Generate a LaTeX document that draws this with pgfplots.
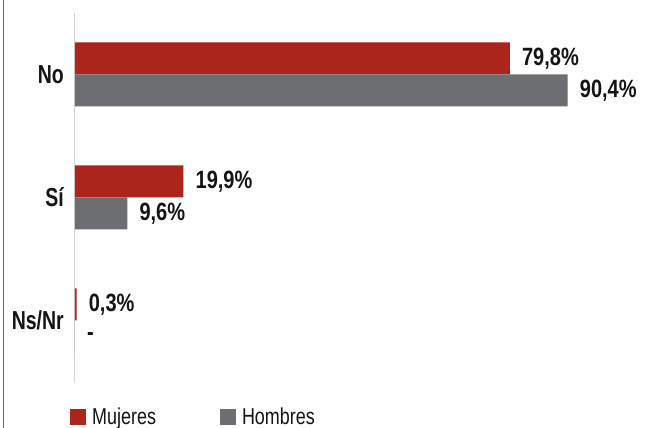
\documentclass[border=0pt]{standalone}
\usepackage{fontspec}
\setmainfont{Liberation Sans}[FakeStretch=0.8]
\newfontfamily\tickfont{Liberation Sans}[FakeStretch=0.75]
\newfontfamily\valfont{Liberation Sans}[FakeStretch=0.8]
\newfontfamily\legfont{Liberation Sans}[FakeStretch=0.78]
\usepackage{pgfplots}
\pgfplotsset{compat=1.18}
\definecolor{mred}{RGB}{172,37,29}
\definecolor{mgray}{RGB}{109,110,113}
\definecolor{bord}{RGB}{205,65,58}
\definecolor{axgray}{RGB}{212,212,212}
\definecolor{txt}{RGB}{20,20,20}
\pgfplotsset{sqlegend/.style={legend image code/.code={\fill[##1] (0pt,-8pt) rectangle (16pt,8pt);}}}
\begin{document}
\begin{tikzpicture}[x=1pt,y=1pt]
\path[use as bounding box] (0,0) rectangle (651,428);
\fill[white] (0,0) rectangle (651,428);
\draw[bord, line width=1.6pt] (3.3,0) -- (3.3,428);
\begin{axis}[
  at={(75pt,46pt)}, anchor=south west,
  scale only axis, width=566.8pt, height=369pt,
  xmin=0, xmax=104, ymin=-0.5, ymax=2.5,
  xbar, bar width=32pt,
  axis x line=none,
  axis y line*=left,
  y axis line style={axgray, line width=1pt},
  ytick={0,1,2}, yticklabels={Ns/Nr,Sí,No},
  major tick length=0pt,
  yticklabel style={font=\tickfont\bfseries\fontsize{26}{30}\selectfont, inner sep=0pt, xshift=-11pt, text=txt},
  point meta=explicit symbolic,
  nodes near coords,
  nodes near coords style={font=\valfont\bfseries\fontsize{25}{29}\selectfont, anchor=west, inner sep=0pt, xshift=12pt, text=txt},
  legend columns=2,
  legend style={draw=none, fill=none, at={(0,0)}, anchor=north west, xshift=-5pt, yshift=-25pt,
    font=\legfont\fontsize{23}{27}\selectfont, text=txt, inner sep=0pt,
    nodes={inner sep=1pt},
    /tikz/every odd column/.append style={column sep=5pt},
    /tikz/every even column/.append style={column sep=63pt}},
  sqlegend,
]
\addplot[fill=mred, draw=none, bar shift=16pt, sqlegend] coordinates {(79.8,2) [79,8\%] (19.9,1) [19,9\%] (0.3,0) [0,3\%]};
\addplot[fill=mgray, draw=none, bar shift=-16pt, sqlegend] coordinates {(90.4,2) [90,4\%] (9.6,1) [9,6\%] (0,0) [-]};
\legend{Mujeres, Hombres}
\end{axis}
\end{tikzpicture}
\end{document}
